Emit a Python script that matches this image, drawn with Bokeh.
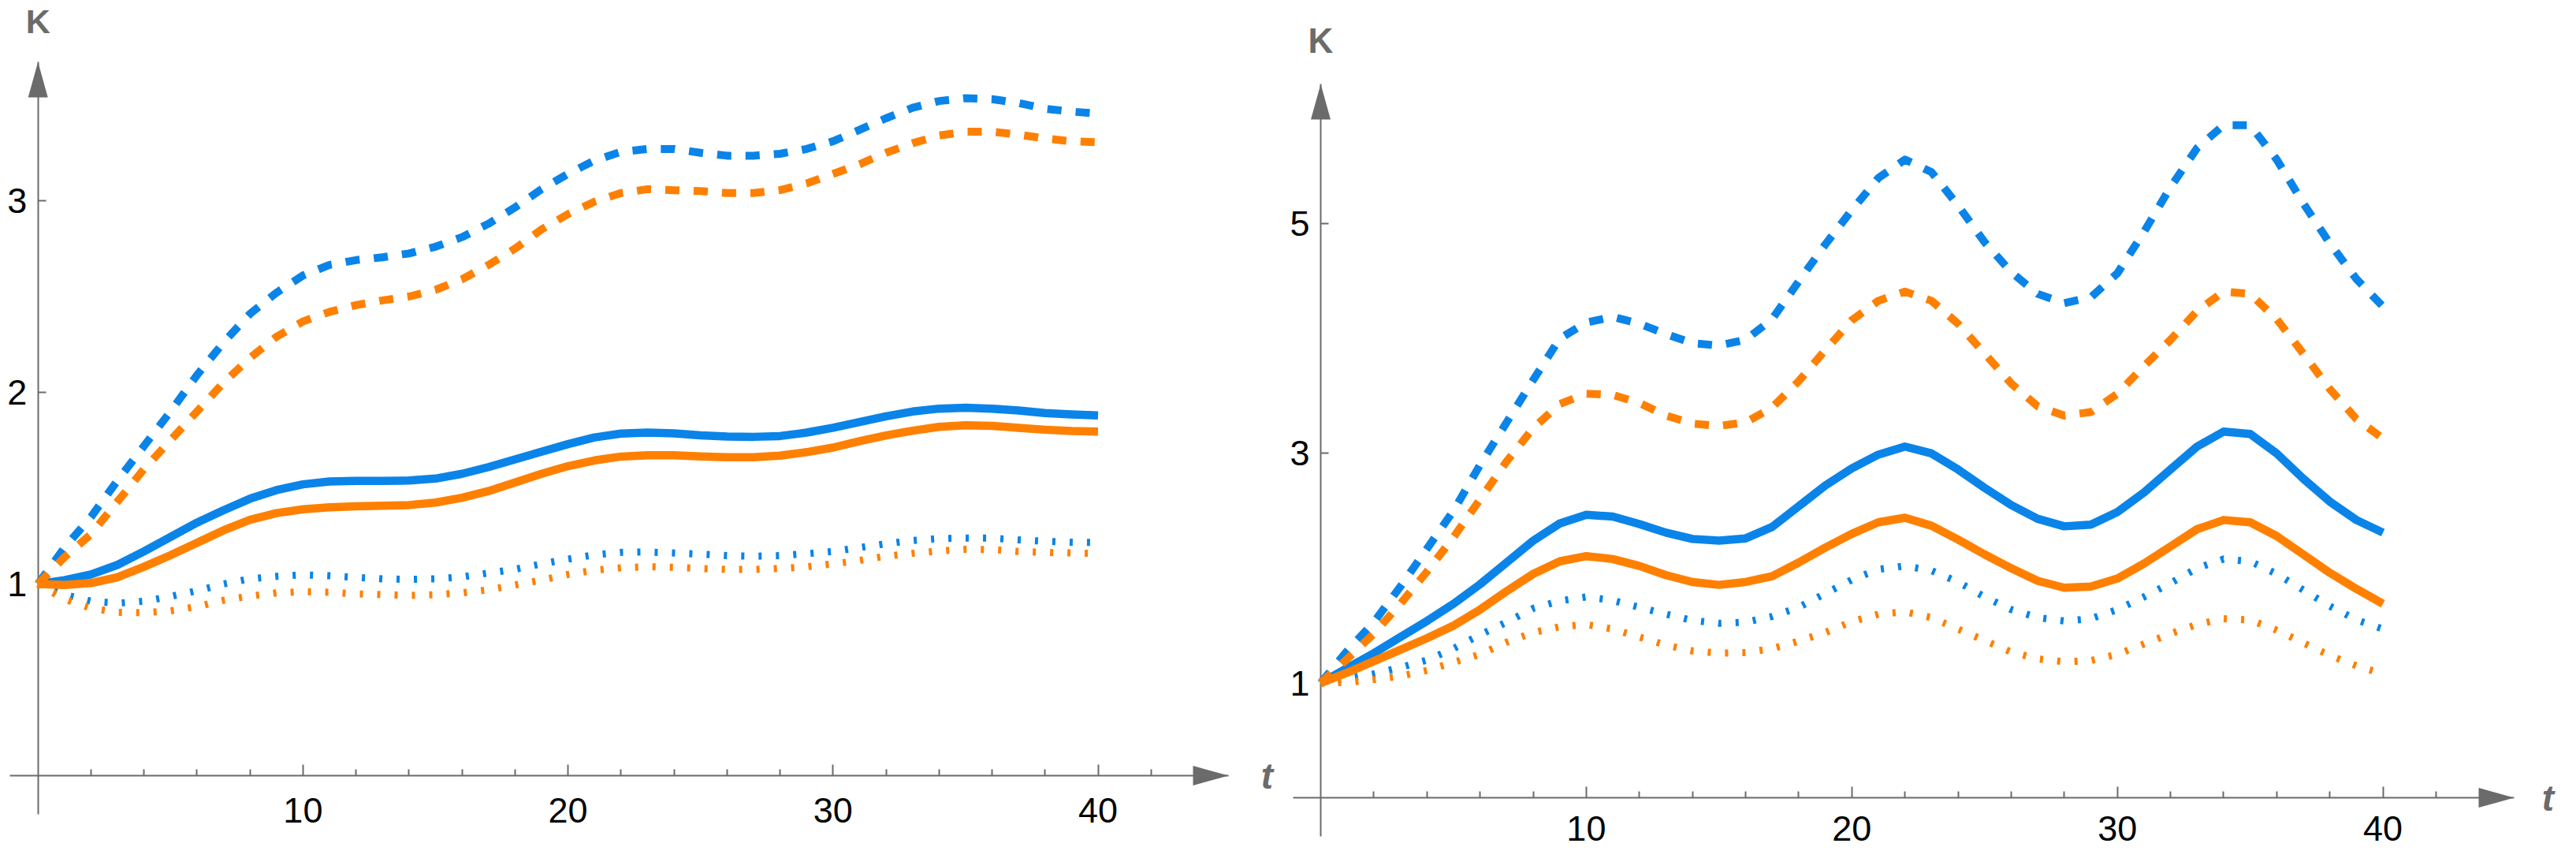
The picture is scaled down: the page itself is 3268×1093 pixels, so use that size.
from bokeh.plotting import figure
from bokeh.layouts import row
from bokeh.models import FixedTicker, Range1d
from bokeh.core.properties import value
from bokeh.embed import file_html
from bokeh.resources import INLINE

# ---------------- data ----------------
T = list(range(41))

# left panel
L_blue_solid = [1.00, 1.02, 1.05, 1.10, 1.17, 1.245, 1.32, 1.385, 1.445, 1.49, 1.52,
                1.535, 1.538, 1.538, 1.54, 1.55, 1.575, 1.61, 1.65, 1.69, 1.73,
                1.765, 1.785, 1.79, 1.786, 1.776, 1.77, 1.768, 1.772, 1.79, 1.815,
                1.845, 1.875, 1.90, 1.915, 1.92, 1.915, 1.905, 1.892, 1.885, 1.88]
L_orange_solid = [1.00, 0.995, 1.005, 1.035, 1.09, 1.15, 1.215, 1.28, 1.335, 1.37, 1.39,
                  1.40, 1.405, 1.408, 1.412, 1.425, 1.45, 1.485, 1.53, 1.575, 1.615,
                  1.645, 1.665, 1.672, 1.672, 1.666, 1.662, 1.662, 1.67, 1.688, 1.712,
                  1.745, 1.775, 1.80, 1.82, 1.828, 1.825, 1.815, 1.805, 1.798, 1.795]
L_blue_dashed = [1.00, 1.19, 1.35, 1.54, 1.72, 1.90, 2.09, 2.26, 2.41, 2.52, 2.61,
                 2.665, 2.69, 2.705, 2.725, 2.76, 2.81, 2.88, 2.965, 3.06, 3.14,
                 3.21, 3.255, 3.27, 3.27, 3.25, 3.235, 3.235, 3.245, 3.27, 3.31,
                 3.37, 3.43, 3.485, 3.52, 3.535, 3.53, 3.51, 3.48, 3.465, 3.455]
L_orange_dashed = [1.00, 1.14, 1.26, 1.43, 1.60, 1.75, 1.90, 2.05, 2.18, 2.29, 2.37,
                   2.42, 2.455, 2.48, 2.50, 2.535, 2.59, 2.665, 2.75, 2.85, 2.93,
                   2.995, 3.04, 3.06, 3.055, 3.05, 3.04, 3.04, 3.055, 3.09, 3.14,
                   3.19, 3.25, 3.30, 3.34, 3.36, 3.36, 3.345, 3.325, 3.31, 3.305]
L_blue_dotted = [1.00, 0.945, 0.91, 0.90, 0.91, 0.935, 0.965, 1.00, 1.027, 1.04, 1.048,
                 1.043, 1.035, 1.027, 1.024, 1.027, 1.037, 1.057, 1.077, 1.105, 1.13,
                 1.152, 1.165, 1.167, 1.162, 1.156, 1.148, 1.145, 1.148, 1.158, 1.17,
                 1.19, 1.21, 1.227, 1.237, 1.24, 1.239, 1.23, 1.223, 1.218, 1.216]
L_orange_dotted = [1.00, 0.92, 0.874, 0.852, 0.85, 0.86, 0.882, 0.915, 0.937, 0.954, 0.96,
                   0.957, 0.948, 0.945, 0.94, 0.944, 0.954, 0.97, 0.995, 1.02, 1.05,
                   1.072, 1.085, 1.09, 1.087, 1.081, 1.076, 1.076, 1.081, 1.09, 1.105,
                   1.123, 1.145, 1.16, 1.172, 1.181, 1.18, 1.17, 1.165, 1.162, 1.16]

# right panel
R_blue_solid = [1.00, 1.13, 1.26, 1.40, 1.54, 1.69, 1.86, 2.05, 2.24, 2.39, 2.465,
                2.45, 2.385, 2.31, 2.255, 2.24, 2.26, 2.36, 2.54, 2.72, 2.87,
                2.99, 3.06, 3.00, 2.86, 2.70, 2.55, 2.43, 2.365, 2.38, 2.49,
                2.66, 2.86, 3.06, 3.19, 3.17, 3.00, 2.78, 2.58, 2.42, 2.31]
R_orange_solid = [1.00, 1.09, 1.19, 1.29, 1.39, 1.50, 1.64, 1.80, 1.95, 2.06, 2.105,
                  2.08, 2.02, 1.94, 1.88, 1.855, 1.88, 1.93, 2.05, 2.18, 2.30,
                  2.40, 2.44, 2.37, 2.25, 2.12, 2.00, 1.89, 1.83, 1.84, 1.91,
                  2.04, 2.19, 2.34, 2.42, 2.40, 2.28, 2.12, 1.96, 1.82, 1.69]
R_blue_dashed = [1.00, 1.28, 1.53, 1.84, 2.17, 2.50, 2.90, 3.27, 3.64, 4.00, 4.14,
                 4.19, 4.13, 4.04, 3.96, 3.94, 3.99, 4.17, 4.50, 4.82, 5.12,
                 5.40, 5.56, 5.45, 5.16, 4.84, 4.58, 4.39, 4.31, 4.36, 4.57,
                 4.93, 5.32, 5.66, 5.86, 5.86, 5.56, 5.18, 4.83, 4.52, 4.28]
R_orange_dashed = [1.00, 1.21, 1.43, 1.69, 1.97, 2.27, 2.60, 2.93, 3.22, 3.43, 3.52,
                   3.51, 3.44, 3.33, 3.26, 3.24, 3.27, 3.40, 3.63, 3.90, 4.16,
                   4.33, 4.41, 4.33, 4.13, 3.87, 3.61, 3.41, 3.33, 3.36, 3.52,
                   3.76, 3.99, 4.24, 4.41, 4.39, 4.17, 3.87, 3.56, 3.30, 3.13]
R_blue_dotted = [1.00, 1.04, 1.08, 1.135, 1.20, 1.30, 1.42, 1.53, 1.65, 1.715, 1.75,
                 1.72, 1.66, 1.60, 1.545, 1.52, 1.53, 1.58, 1.66, 1.78, 1.90,
                 1.99, 2.02, 1.98, 1.88, 1.75, 1.64, 1.57, 1.54, 1.56, 1.64,
                 1.75, 1.87, 2.00, 2.08, 2.06, 1.95, 1.81, 1.67, 1.55, 1.47]
R_orange_dotted = [1.00, 1.005, 1.03, 1.06, 1.11, 1.18, 1.25, 1.355, 1.44, 1.49, 1.51,
                   1.47, 1.40, 1.33, 1.28, 1.26, 1.265, 1.30, 1.365, 1.44, 1.535,
                   1.60, 1.62, 1.57, 1.47, 1.37, 1.27, 1.21, 1.185, 1.195, 1.25,
                   1.34, 1.43, 1.51, 1.56, 1.55, 1.46, 1.35, 1.24, 1.15, 1.08]

X_MAJOR = [10, 20, 30, 40]
X_MINOR = [v for v in range(2, 45, 2) if v % 10 != 0]
LEFT_YTICKS = [1, 2, 3]
RIGHT_YTICKS = [1, 3, 5]
Y_NAME = "K"
X_NAME = "t"

# ---------------- style ----------------
BLUE = "#0A84E8"
ORANGE = "#FF8000"
AXIS = "#6b6b6b"
FONT = "Liberation Sans"

SOLID_W = 10.5
DASH_W = 10
DOT_W = 9
PAGE = 8          # page margin
H_ALL = 1077


def panel(width, page_x0, t0_px, px_per_t, k0_py, px_per_k,
          xaxis_px, yaxis_py, yticks, curves, k_px, k_size, t_px, x_standoff):
    # frame covers the whole figure; map page pixels -> data
    def tx(px):
        return (px - t0_px) / px_per_t

    def ky(py):
        return (k0_py - py) / px_per_k

    xr = (tx(page_x0), tx(page_x0 + width))
    yr = (ky(PAGE + H_ALL), ky(PAGE))
    p = figure(width=width, height=H_ALL,
               x_range=Range1d(*xr), y_range=Range1d(*yr),
               output_backend="svg", toolbar_location=None, title=None,
               min_border_left=0, min_border_right=0,
               min_border_top=0, min_border_bottom=0)
    p.grid.visible = False
    p.outline_line_color = None
    p.background_fill_color = "white"
    p.border_fill_color = "white"

    xb = (tx(xaxis_px[0]), tx(xaxis_px[1]))
    yb = (ky(yaxis_py[1]), ky(yaxis_py[0]))

    xa = p.xaxis[0]
    ya = p.yaxis[0]
    for ax in (xa, ya):
        ax.fixed_location = 0
        ax.axis_line_color = AXIS
        ax.axis_line_width = 2
        ax.major_tick_line_color = AXIS
        ax.major_tick_line_width = 2
        ax.minor_tick_line_color = AXIS
        ax.minor_tick_line_width = 2
        ax.major_tick_out = 0
        ax.minor_tick_out = 0
        ax.major_label_text_font = FONT
        ax.major_label_text_font_size = "45px"
        ax.major_label_text_color = "black"
        ax.level = "underlay"
    xa.bounds = xb
    ya.bounds = yb
    xa.ticker = FixedTicker(ticks=X_MAJOR, minor_ticks=X_MINOR)
    xa.major_tick_in = 14
    xa.minor_tick_in = 8
    xa.major_label_standoff = x_standoff
    ya.ticker = FixedTicker(ticks=yticks, minor_ticks=[])
    ya.major_tick_in = 10
    ya.minor_tick_line_color = None
    ya.major_label_standoff = 14

    # curves
    for ys, color, dash, w in curves:
        p.line(T, ys, line_color=color, line_width=w, line_dash=dash,
               line_cap="butt", line_join="round")

    # arrow heads at the axis ends
    L, H = 45, 12.5
    p.patch([tx(xaxis_px[1] - L), xb[1], tx(xaxis_px[1] - L)],
            [H / px_per_k, 0, -H / px_per_k],
            fill_color=AXIS, line_color=None)
    p.patch([-H / px_per_t, 0, H / px_per_t],
            [ky(yaxis_py[0] + L), yb[1], ky(yaxis_py[0] + L)],
            fill_color=AXIS, line_color=None)

    # axis names
    p.text(x=[0], y=[ky(k_px)], text=[Y_NAME], text_align="center",
           text_baseline="middle", text_font=value(FONT), text_font_size=k_size,
           text_font_style="bold", text_color=AXIS)
    p.text(x=[tx(t_px)], y=[0], text=[X_NAME], text_align="center",
           text_baseline="middle", text_font=value(FONT), text_font_size="46px",
           text_font_style="bold italic", text_color=AXIS)
    return p


left_curves = [
    (L_blue_dashed, BLUE, "18 18", DASH_W),
    (L_blue_solid, BLUE, "solid", SOLID_W),
    (L_blue_dotted, BLUE, "4 18", DOT_W),
    (L_orange_dashed, ORANGE, "18 18", DASH_W),
    (L_orange_solid, ORANGE, "solid", SOLID_W),
    (L_orange_dotted, ORANGE, "4 18", DOT_W),
]
right_curves = [
    (R_blue_dashed, BLUE, "18 18", DASH_W),
    (R_blue_solid, BLUE, "solid", SOLID_W),
    (R_blue_dotted, BLUE, "4 18", DOT_W),
    (R_orange_dashed, ORANGE, "18 18", DASH_W),
    (R_orange_solid, ORANGE, "solid", SOLID_W),
    (R_orange_dotted, ORANGE, "4 18", DOT_W),
]

p1 = panel(1630, 8, 55.7, 33.62, 991.0, 243.0,
           (20, 1566), (86, 1040), LEFT_YTICKS, left_curves, 34, "43px", 1615, 28)
p2 = panel(1622, 1638, 1683.0, 33.69, 1019.1, 145.55,
           (1648, 3197), (114, 1068), RIGHT_YTICKS, right_curves, 59, "44px", 3240, 23)

layout = row(p1, p2)
open("out.html", "w").write(file_html(layout, INLINE))
